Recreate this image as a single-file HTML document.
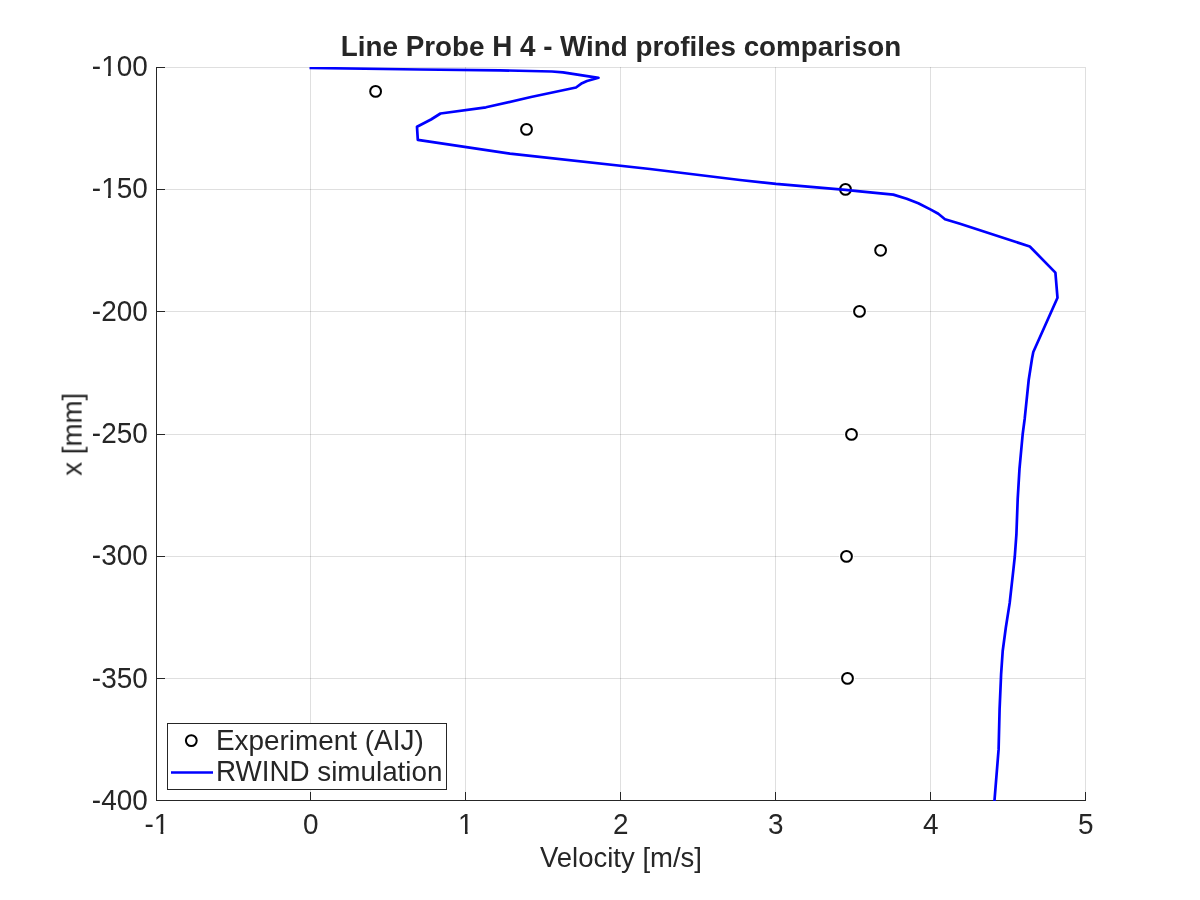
<!DOCTYPE html><html><head><meta charset="utf-8"><style>html,body{margin:0;padding:0;background:#fff;}svg{display:block;}text{font-family:"Liberation Sans",sans-serif;fill:#262626;}</style></head><body>
<svg width="1200" height="900" viewBox="0 0 1200 900">
<rect x="0" y="0" width="1200" height="900" fill="#fff"/>
<path d="M310.5 67V800M465.5 67V800M620.5 67V800M775.5 67V800M930.5 67V800M1085.5 67V800" stroke="#262626" stroke-opacity="0.15" stroke-width="1" fill="none"/>
<path d="M157 67.5H1085M157 189.5H1085M157 311.5H1085M157 434.5H1085M157 556.5H1085M157 678.5H1085" stroke="#262626" stroke-opacity="0.15" stroke-width="1" fill="none"/>
<path d="M156.5 67V801M156 800.5H1086M156.5 792V800M310.5 792V800M465.5 792V800M620.5 792V800M775.5 792V800M930.5 792V800M1085.5 792V800M157 67.5H165M157 189.5H165M157 311.5H165M157 434.5H165M157 556.5H165M157 678.5H165M157 800.5H165" stroke="#262626" stroke-width="1" fill="none"/>
<circle cx="375.6" cy="91.4" r="7.4" fill="#fff"/>
<circle cx="526.5" cy="129.4" r="7.4" fill="#fff"/>
<circle cx="845.5" cy="189.4" r="7.4" fill="#fff"/>
<circle cx="880.6" cy="250.3" r="7.4" fill="#fff"/>
<circle cx="859.5" cy="311.4" r="7.4" fill="#fff"/>
<circle cx="851.5" cy="434.4" r="7.4" fill="#fff"/>
<circle cx="846.5" cy="556.4" r="7.4" fill="#fff"/>
<circle cx="847.5" cy="678.4" r="7.4" fill="#fff"/>
<circle cx="375.6" cy="91.4" r="5.40" fill="#fff" stroke="#000" stroke-width="2.00"/>
<circle cx="526.5" cy="129.4" r="5.40" fill="#fff" stroke="#000" stroke-width="2.00"/>
<circle cx="845.5" cy="189.4" r="5.40" fill="#fff" stroke="#000" stroke-width="2.00"/>
<circle cx="880.6" cy="250.3" r="5.40" fill="#fff" stroke="#000" stroke-width="2.00"/>
<circle cx="859.5" cy="311.4" r="5.40" fill="#fff" stroke="#000" stroke-width="2.00"/>
<circle cx="851.5" cy="434.4" r="5.40" fill="#fff" stroke="#000" stroke-width="2.00"/>
<circle cx="846.5" cy="556.4" r="5.40" fill="#fff" stroke="#000" stroke-width="2.00"/>
<circle cx="847.5" cy="678.4" r="5.40" fill="#fff" stroke="#000" stroke-width="2.00"/>
<clipPath id="ax"><rect x="156" y="67" width="930" height="734"/></clipPath>
<polyline clip-path="url(#ax)" points="309.5,68.0 420.0,69.5 500.0,70.3 552.0,71.5 563.0,72.3 598.5,77.8 587.0,81.0 582.0,83.2 576.0,87.5 531.0,97.0 486.0,107.3 440.5,113.5 431.0,119.5 417.0,126.8 417.8,139.8 510.0,153.6 650.0,169.0 740.0,180.0 776.0,183.9 845.5,189.8 860.0,191.3 893.3,194.6 906.7,198.8 918.3,203.3 930.8,209.6 938.3,213.8 945.0,219.2 960.0,223.8 1029.8,246.5 1055.4,272.6 1057.5,297.8 1033.3,352.0 1032.0,358.7 1028.7,380.0 1024.7,418.7 1022.7,434.0 1019.5,468.7 1017.7,498.9 1016.4,534.4 1014.8,556.5 1013.5,568.7 1009.7,602.9 1005.8,627.8 1002.7,651.0 1001.1,674.4 999.6,708.9 998.6,749.4 994.4,801.5" fill="none" stroke="#0000ff" stroke-width="2.70" stroke-linejoin="round"/>
<g style="filter:grayscale(0)">
<text transform="translate(156.80 833.80) scale(1 1.040)" font-size="27.90" text-anchor="middle">-1</text>
<text transform="translate(310.80 833.80) scale(1 1.040)" font-size="27.90" text-anchor="middle">0</text>
<text transform="translate(465.80 833.80) scale(1 1.040)" font-size="27.90" text-anchor="middle">1</text>
<text transform="translate(620.80 833.80) scale(1 1.040)" font-size="27.90" text-anchor="middle">2</text>
<text transform="translate(775.80 833.80) scale(1 1.040)" font-size="27.90" text-anchor="middle">3</text>
<text transform="translate(930.80 833.80) scale(1 1.040)" font-size="27.90" text-anchor="middle">4</text>
<text transform="translate(1085.80 833.80) scale(1 1.040)" font-size="27.90" text-anchor="middle">5</text>
<text transform="translate(147.70 75.70) scale(1 1.040)" font-size="27.90" text-anchor="end">-100</text>
<text transform="translate(147.70 197.90) scale(1 1.040)" font-size="27.90" text-anchor="end">-150</text>
<text transform="translate(147.70 320.90) scale(1 1.040)" font-size="27.90" text-anchor="end">-200</text>
<text transform="translate(147.70 442.90) scale(1 1.040)" font-size="27.90" text-anchor="end">-250</text>
<text transform="translate(147.70 564.90) scale(1 1.040)" font-size="27.90" text-anchor="end">-300</text>
<text transform="translate(147.70 687.75) scale(1 1.040)" font-size="27.90" text-anchor="end">-350</text>
<text transform="translate(147.70 809.75) scale(1 1.040)" font-size="27.90" text-anchor="end">-400</text>
<text transform="translate(540.00 866.80) scale(1 1.040)" font-size="27.50">V</text><text transform="translate(556.81 866.80)" font-size="27.50">elocity [m/s]</text>
<text transform="translate(81.60 434.30) rotate(-90)" font-size="27.70" text-anchor="middle">x [mm]</text>
<text transform="translate(340.80 55.80) scale(1 1.040)" font-size="27.80" font-weight="bold">L</text><text transform="translate(357.77 55.80)" font-size="27.80" font-weight="bold">ine</text><text transform="translate(405.66 55.80) scale(1 1.040)" font-size="27.80" font-weight="bold">P</text><text transform="translate(424.20 55.80)" font-size="27.80" font-weight="bold">robe</text><text transform="translate(492.16 55.80) scale(1 1.040)" font-size="27.80" font-weight="bold">H</text><text transform="translate(519.96 55.80) scale(1 1.040)" font-size="27.80" font-weight="bold">4</text><text transform="translate(543.13 55.80)" font-size="27.80" font-weight="bold">-</text><text transform="translate(560.12 55.80) scale(1 1.040)" font-size="27.80" font-weight="bold">W</text><text transform="translate(586.12 55.80)" font-size="27.80" font-weight="bold">ind profiles comparison</text>
</g>
<rect x="101.69" y="72.63" width="6.35" height="3.97" fill="#fff"/><rect x="110.75" y="72.63" width="5.64" height="3.97" fill="#fff"/>
<rect x="101.69" y="194.83" width="6.35" height="3.97" fill="#fff"/><rect x="110.75" y="194.83" width="5.64" height="3.97" fill="#fff"/>
<rect x="154.23" y="830.73" width="6.35" height="3.97" fill="#fff"/><rect x="163.29" y="830.73" width="5.64" height="3.97" fill="#fff"/>
<rect x="458.59" y="830.73" width="6.35" height="3.97" fill="#fff"/><rect x="467.64" y="830.73" width="5.64" height="3.97" fill="#fff"/>
<rect x="167.5" y="723.5" width="279" height="66" fill="#fff" stroke="#262626" stroke-width="1"/>
<circle cx="191.3" cy="740.6" r="5.40" fill="none" stroke="#000" stroke-width="2.00"/>
<path d="M171 772.5H213" stroke="#0000ff" stroke-width="2.70"/>
<g style="filter:grayscale(0)">
<text transform="translate(216.00 749.80) scale(1 1.040)" font-size="27.90">E</text><text transform="translate(234.59 749.80)" font-size="27.90">xperiment (</text><text transform="translate(374.09 749.80) scale(1 1.040)" font-size="27.90">AIJ</text><text transform="translate(414.39 749.80)" font-size="27.90">)</text>
<text transform="translate(215.90 780.60) scale(1 1.040)" font-size="27.80">RWIND</text><text transform="translate(317.29 780.60)" font-size="27.80">simulation</text>
</g>
</svg></body></html>
